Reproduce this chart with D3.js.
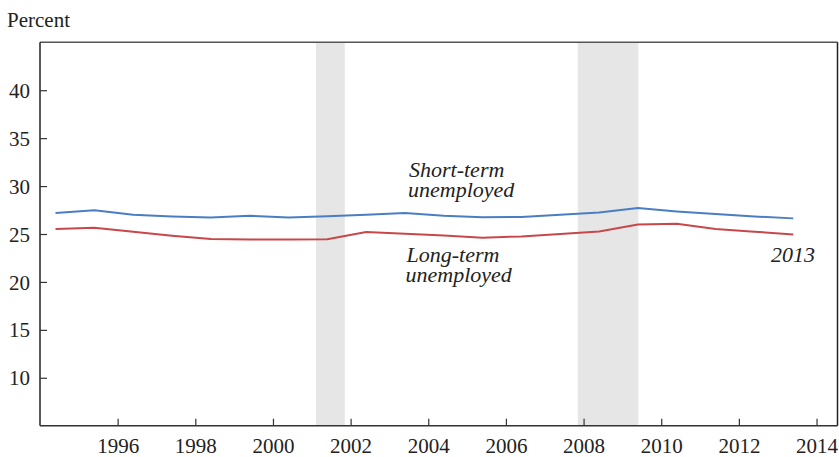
<!DOCTYPE html>
<html><head><meta charset="utf-8">
<script src="https://cdn.jsdelivr.net/npm/d3@7"></script>
<style>body{margin:0;background:#fff}svg{display:block}</style>
</head><body>
<svg id="c" width="839" height="457"></svg>
<script>
const years = [1994,1995,1996,1997,1998,1999,2000,2001,2002,2003,2004,2005,2006,2007,2008,2009,2010,2011,2012,2013];
const shortTerm = [27.2,27.47,27.0,26.83,26.73,26.9,26.73,26.85,27.0,27.19,26.9,26.75,26.77,27.0,27.25,27.71,27.35,27.08,26.83,26.63];
const longTerm = [25.52,25.66,25.24,24.82,24.48,24.42,24.42,24.46,25.21,25.03,24.85,24.61,24.75,25.0,25.27,26.0,26.07,25.52,25.24,24.96];
const recessions = [[2001.11,2001.85],[2007.85,2009.41]];
const yTicks = [10,15,20,25,30,35,40];
const xTicks = [1996,1998,2000,2002,2004,2006,2008,2010,2012,2014];

const svg = d3.select("#c");
const L=40, R=837.5, T=42.3, B=425.7;
const x = d3.scaleLinear().domain([1994,2014.54]).range([L,R]);
const y = d3.scaleLinear().domain([5,45]).range([B,T]);
const serif = "'Liberation Serif','Times New Roman',serif";

svg.selectAll("rect.rec").data(recessions).enter().append("rect")
  .attr("x",d=>x(d[0])).attr("width",d=>x(d[1])-x(d[0]))
  .attr("y",T).attr("height",B-T).attr("fill","#e5e6e5");

// frame
svg.append("line").attr("x1",L).attr("x2",R).attr("y1",T).attr("y2",T).attr("stroke","#555").attr("stroke-width",1.5);
svg.append("line").attr("x1",R).attr("x2",R).attr("y1",T).attr("y2",B).attr("stroke","#222").attr("stroke-width",1.5);

const yAxis = svg.append("g").attr("transform",`translate(${L},0)`)
  .call(d3.axisRight(y).tickValues(yTicks).tickSize(7).tickFormat(d3.format("d")));
yAxis.attr("font-family",serif);
yAxis.select(".domain").attr("d",`M0,${T}V${B}`).attr("stroke","#222").attr("stroke-width",1.5);
yAxis.selectAll(".tick line").attr("stroke","#333").attr("stroke-width",1.2);
yAxis.selectAll(".tick text").attr("x",-10).attr("text-anchor","end").attr("dy","0.34em")
  .attr("font-family",serif).attr("font-size",21).attr("fill","#222");

const xAxis = svg.append("g").attr("transform",`translate(0,${B})`)
  .call(d3.axisTop(x).tickValues(xTicks).tickSize(7).tickFormat(d3.format("d")));
xAxis.attr("font-family",serif);
xAxis.select(".domain").attr("d",`M${L},0H${R}`).attr("stroke","#333").attr("stroke-width",1.5);
xAxis.selectAll(".tick line").attr("stroke","#333").attr("stroke-width",1.2);
xAxis.selectAll(".tick text").attr("y",27).attr("dy",0)
  .attr("font-family",serif).attr("font-size",21).attr("fill","#222");

const line = d3.line().x((d,i)=>x(years[i]+0.4)).y(d=>y(d));
svg.append("path").datum(shortTerm).attr("d",line).attr("fill","none").attr("stroke","#4a7ec4").attr("stroke-width",2);
svg.append("path").datum(longTerm).attr("d",line).attr("fill","none").attr("stroke","#c8474b").attr("stroke-width",2);

svg.append("text").attr("x",7).attr("y",26.5).text("Percent")
  .attr("font-family",serif).attr("font-size",21).attr("fill","#222");

const labels = [
  {lines:["Short-term","unemployed"],x:409,y:176.5,a:"start"},
  {lines:["Long-term","unemployed"],x:406.5,y:261.5,a:"start"},
  {lines:["2013"],x:815,y:261.5,a:"end"}
];
const lt = svg.selectAll("text.lab").data(labels).enter().append("text").attr("class","lab")
  .attr("x",d=>d.x).attr("y",d=>d.y).attr("text-anchor",d=>d.a)
  .attr("font-family",serif).attr("font-style","italic").attr("font-size",22).attr("fill","#222");
lt.each(function(d){
  const t = d3.select(this);
  d.lines.forEach((s,i)=>{
    t.append("tspan").attr("x",d.x+(i?-1:0)).attr("dy",i?20.5:0).text(s);
  });
});
</script>
</body></html>
